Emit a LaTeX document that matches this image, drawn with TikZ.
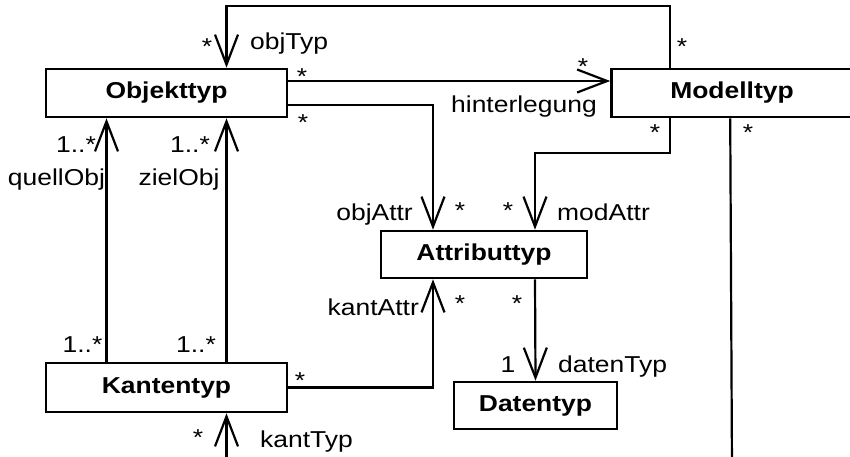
\documentclass[tikz,border=0pt]{standalone}
\usepackage{fontspec}
\setmainfont{Liberation Sans}[FakeStretch=1.15]
\usepackage{tikz}
\usetikzlibrary{arrows.meta}
\usetikzlibrary{positioning}

\begin{document}
\begin{tikzpicture}[x=1pt,y=-1pt,
		font=\fontsize{23}{27}\selectfont,
		klasse/.style={draw,line width=2.6pt,minimum height=48pt,inner sep=0pt,font=\fontsize{23}{27}\selectfont\bfseries},
		assoc/.style={line width=2.2pt},
		navig/.style={assoc,-{Straight Barb[length=30pt,width=23pt]}},
		lbl/.style={inner sep=0pt}]
	\useasboundingbox (0,0) rectangle (850,457);
	% Klassen
	\node[klasse,minimum width=241pt] (objekt) at (166.5,93) {Objekttyp};
	\node[klasse,minimum width=241pt] (modell) at (732,93) {Modelltyp};
	\node[klasse,minimum width=206pt,minimum height=47pt] (attr) at (484,254.5) {Attributtyp};
	\node[klasse,minimum width=163pt,minimum height=47pt] (daten) at (535.5,405.5) {Datentyp};
	\node[klasse,minimum width=241pt,minimum height=49pt] (kante) at (166.5,387.5) {Kantentyp};
	\coordinate (kantEnde) at (226.5,470);
	\coordinate (modEnde) at (732,470);
	% Assoziationen
	\draw[navig] ([xshift=60pt]modell.north west) -- ++(0,-62) -| ([xshift=60pt]objekt.north);
	\draw[navig] ([yshift=12pt]objekt.east) -- ([yshift=12pt]modell.west);
	\draw[navig] ([yshift=-12pt]objekt.east) -| ([xshift=-51pt]attr.north);
	\draw[navig] ([xshift=60pt]modell.south west) -- ++(0,35) -| ([xshift=51pt]attr.north);
	\draw[assoc] ([xshift=120pt]modell.south west) -- (modEnde);
	\draw[navig] ([xshift=-60pt]kante.north) -- ([xshift=-60pt]objekt.south);
	\draw[navig] ([xshift=60pt]kante.north) -- ([xshift=60pt]objekt.south);
	\draw[navig] (kante.east) -| ([xshift=-51pt]attr.south);
	\draw[navig] ([xshift=51pt]attr.south) -- (daten.north);
	\draw[navig] (kantEnde) -- ([xshift=60pt]kante.south);
	% Rollen und Multiplizitaeten
	\node[lbl,anchor=base] (m1) at (207,55) {*};
	\node[lbl,anchor=base west] (r1) at (250,50) {objTyp};
	\node[lbl,anchor=base] (m2) at (682,55) {*};
	\node[lbl,anchor=base] (m3) at (302,85) {*};
	\node[lbl,anchor=base] (m4) at (583,75) {*};
	\node[lbl,anchor=base] (r2) at (524,113) {hinterlegung};
	\node[lbl,anchor=base] (m5) at (303,131) {*};
	\node[lbl,anchor=base east] (r3) at (413,220) {objAttr};
	\node[lbl,anchor=base] (m6) at (460,218) {*};
	\node[lbl,anchor=base] (m7) at (508,218) {*};
	\node[lbl,anchor=base west] (r4) at (557,220) {modAttr};
	\node[lbl,anchor=base] (m8) at (655,141) {*};
	\node[lbl,anchor=base] (m9) at (748,141) {*};
	\node[lbl,anchor=base] (m10) at (76,153) {1..*};
	\node[lbl,anchor=base] (r5) at (56.5,185) {quellObj};
	\node[lbl,anchor=base] (m11) at (190,153) {1..*};
	\node[lbl,anchor=base] (r6) at (179,185) {zielObj};
	\node[lbl,anchor=base] (m12) at (82.5,352) {1..*};
	\node[lbl,anchor=base] (m13) at (196,352) {1..*};
	\node[lbl,anchor=base] (m14) at (300,388) {*};
	\node[lbl,anchor=base east] (r7) at (419,315) {kantAttr};
	\node[lbl,anchor=base] (m15) at (460,311) {*};
	\node[lbl,anchor=base] (m16) at (517,311) {*};
	\node[lbl,anchor=base] (m17) at (508,372) {1};
	\node[lbl,anchor=base west] (r8) at (558,372) {datenTyp};
	\node[lbl,anchor=base] (m18) at (198,445) {*};
	\node[lbl,anchor=base west] (r9) at (260,447) {kantTyp};
\end{tikzpicture}
\end{document}
